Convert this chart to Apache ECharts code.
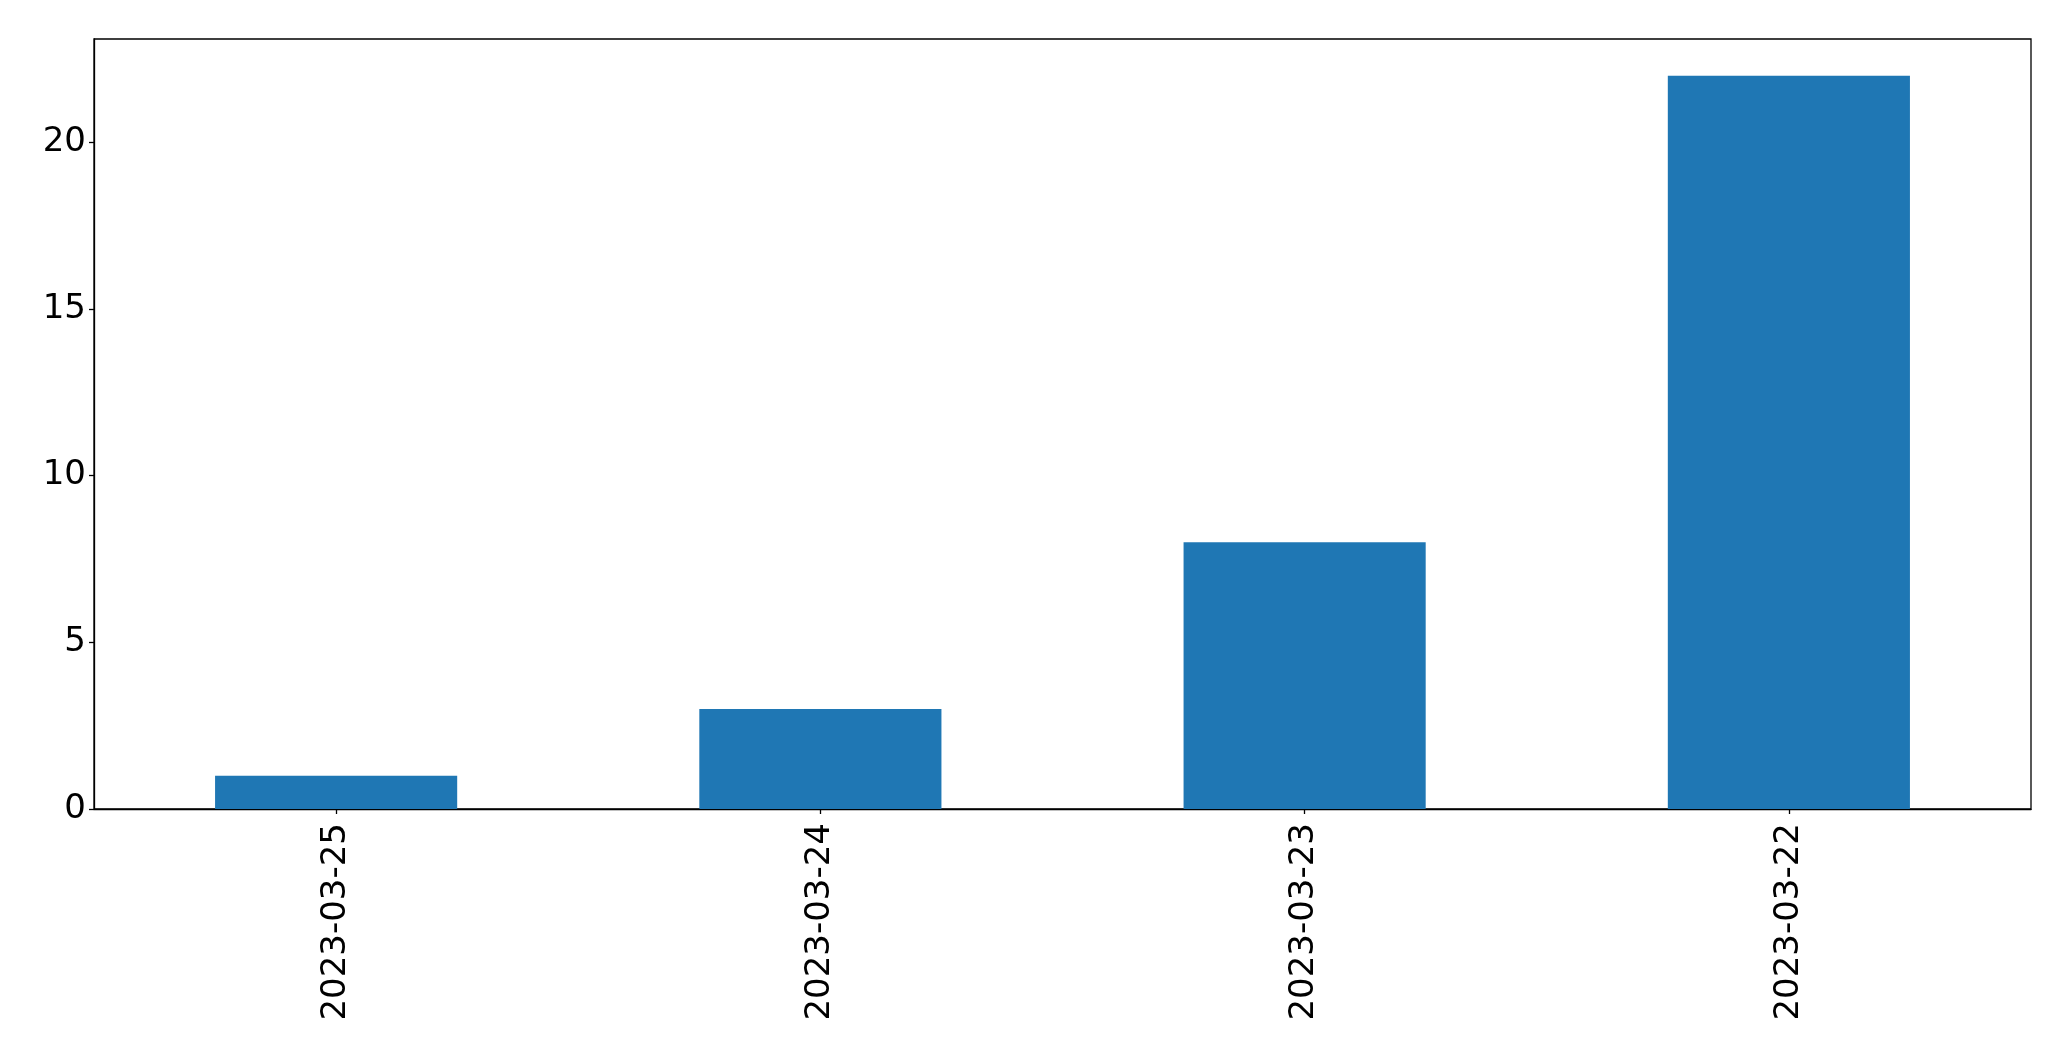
<!DOCTYPE html>
<html>
<head>
<meta charset="utf-8">
<script src="https://cdn.jsdelivr.net/npm/echarts@6/dist/echarts.min.js"></script>
<style>html,body{margin:0;padding:0;background:#fff}#c{width:2071px;height:1061px}</style>
</head>
<body>
<div id="c"></div>
<script>
const categories = ['2023-03-25', '2023-03-24', '2023-03-23', '2023-03-22'];
const values = [1, 3, 8, 22];
const yTicks = [0, 5, 10, 15, 20];

const chart = echarts.init(document.getElementById('c'), null, {renderer: 'canvas'});
const font = 'DejaVu Sans';
chart.setOption({
  animation: false,
  backgroundColor: '#fff',
  grid: {left: 94, right: 40, top: 39, bottom: 252, show: true, borderColor: '#000', borderWidth: 1.3, backgroundColor: 'transparent'},
  xAxis: {
    type: 'category',
    data: categories,
    boundaryGap: true,
    axisLine: {show: true, lineStyle: {color: '#000', width: 1.3}},
    axisTick: {show: true, alignWithLabel: true, length: 5, lineStyle: {color: '#000', width: 1.3}},
    axisLabel: {rotate: 90, margin: 14, color: '#000', fontSize: 34, fontFamily: font},
    splitLine: {show: false}
  },
  yAxis: {
    type: 'value',
    min: 0, max: 23.1, interval: 5,
    axisLine: {show: true, lineStyle: {color: '#000', width: 1.3}},
    axisTick: {show: true, length: 5, lineStyle: {color: '#000', width: 1.3}, customValues: yTicks},
    axisLabel: {margin: 8, color: '#000', fontSize: 34, fontFamily: font, customValues: yTicks},
    splitLine: {show: false}
  },
  series: [{
    type: 'bar',
    data: values,
    barWidth: '50%',
    itemStyle: {color: '#1f77b4'}
  }]
});
</script>
</body>
</html>
